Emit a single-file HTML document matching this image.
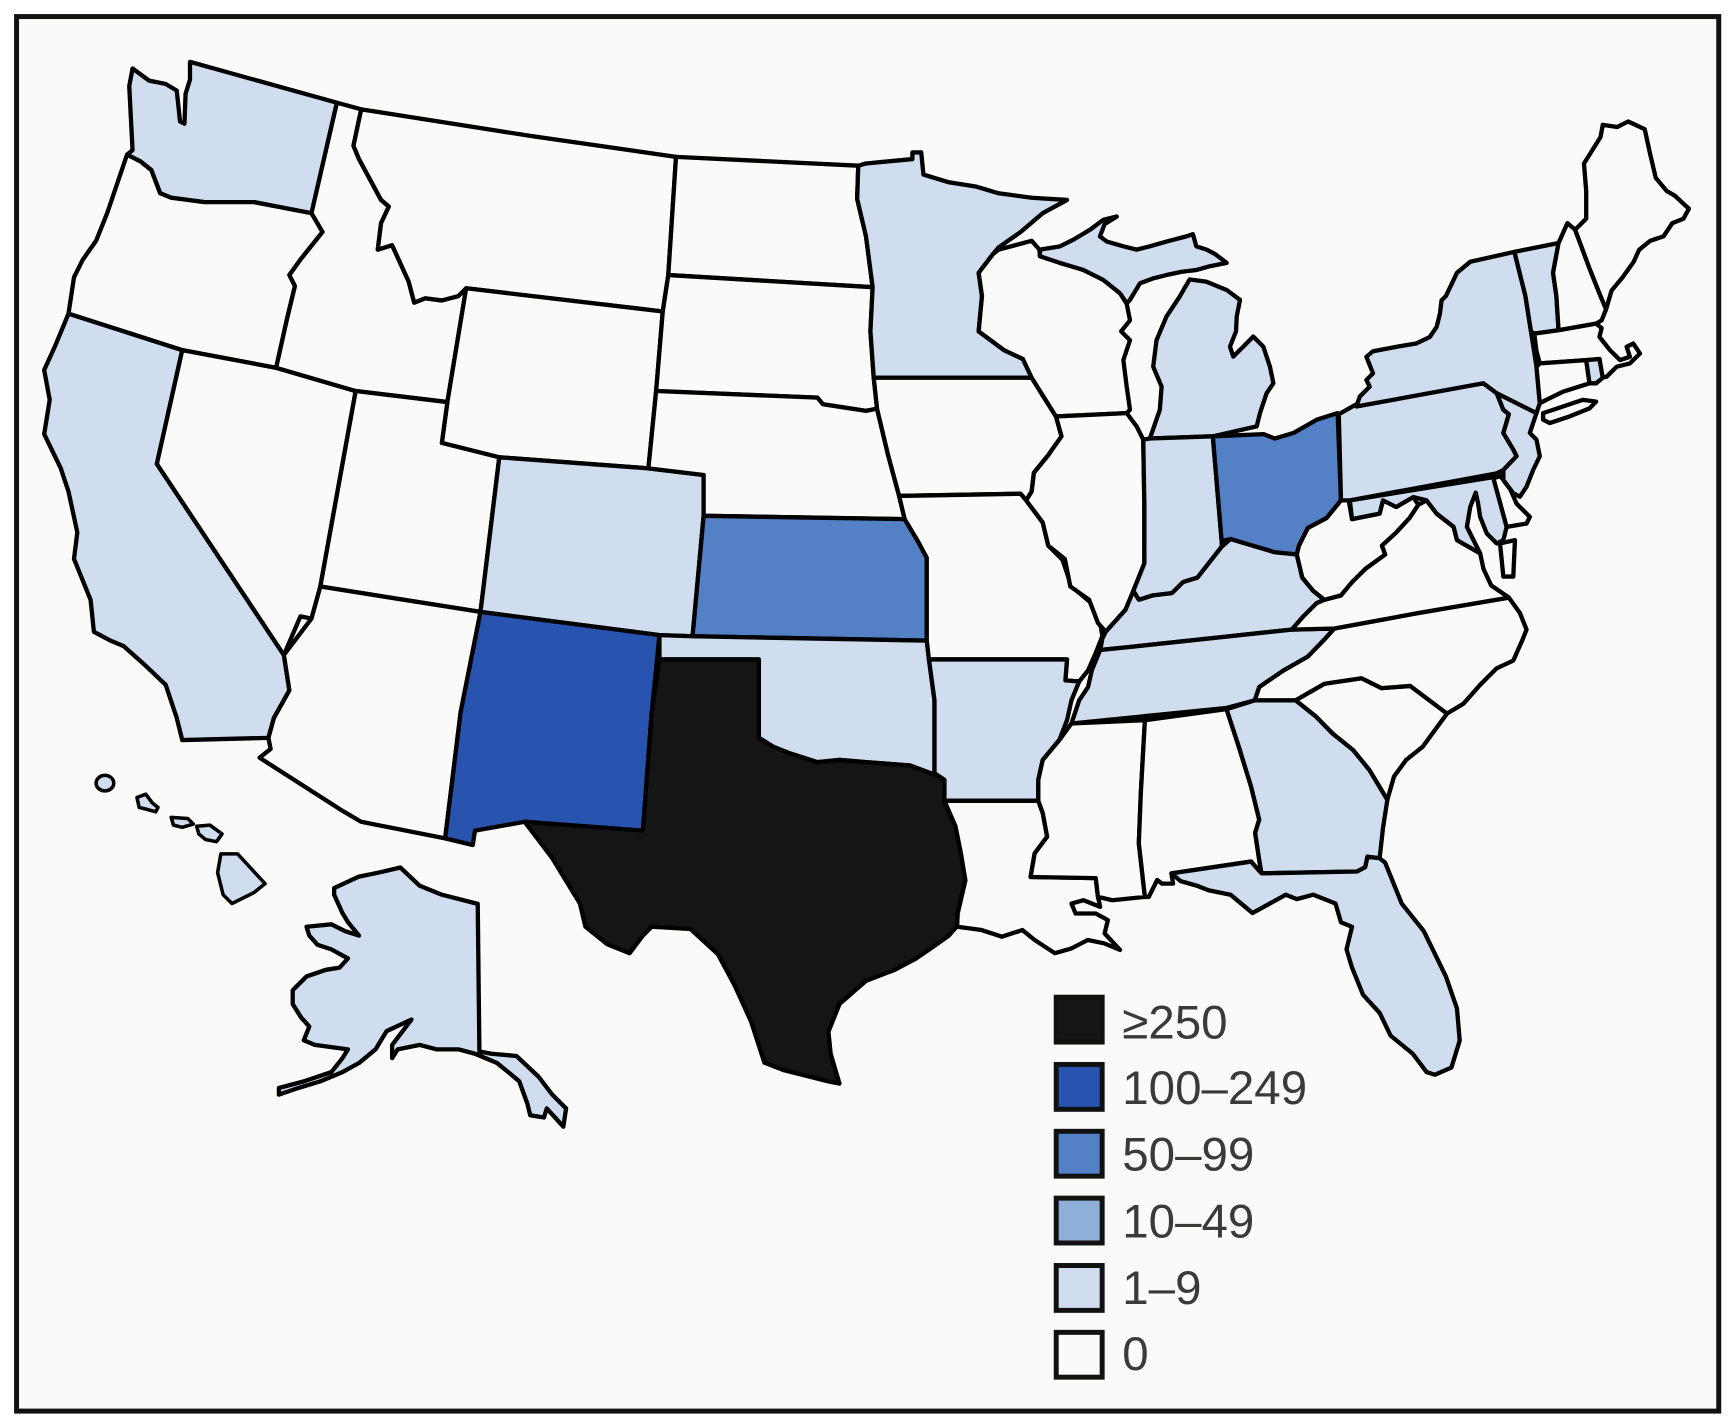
<!DOCTYPE html>
<html>
<head>
<meta charset="utf-8">
<style>
html,body{margin:0;padding:0;background:#ffffff;}
svg{display:block;}
</style>
</head>
<body>
<svg width="1732" height="1426" viewBox="0 0 1568 1291" preserveAspectRatio="none" xmlns="http://www.w3.org/2000/svg">
<rect x="0" y="0" width="1568" height="1291" fill="#ffffff"/>
<rect x="15" y="15" width="1541" height="1262.5" fill="#fafbf9" stroke="#111" stroke-width="4.5"/>
<g stroke="#000" stroke-width="3.9" stroke-linejoin="round" fill="#fafbf9">
<!-- West -->
<polygon fill="#cfddef" points="120,62 135,73 150,76 160,82 163,110 167,112 168,85 172,72 172,56 305,93 282,193 230,183 185,183 155,179 145,175 137,154 127,146 115,140 120,136 117,78"/>
<polygon points="115,140 127,146 137,154 145,175 155,179 185,183 230,183 282,193 292,210 272,235 262,249 267,259 260,288 250,333 165,317 62,284 67,251 75,235 87,218 97,193"/>
<polygon fill="#cfddef" points="62,284 165,317 142,420 257,593 262,625 248,650 243,668 165,670 160,650 150,620 130,601 112,585 100,580 85,572 82,543 67,506 70,482 62,445 55,424 40,393 45,362 40,335 50,313"/>
<polygon points="165,317 250,333 322,354 290,531 282,560 272,558 257,593 142,420"/>
<polygon points="305,93 327,99 320,132 325,144 345,181 352,187 345,202 342,226 355,222 370,255 375,274 385,270 400,272 415,268 422,261 405,364 322,354 250,333 260,288 267,259 262,249 272,235 292,210 282,193"/>
<polygon points="327,99 480,123 612,142 605,249 600,282 422,261 415,268 400,272 385,270 375,274 370,255 355,222 342,226 345,202 352,187 345,181 325,144 320,132"/>
<polygon points="422,261 600,282 594,354 587,424 452,414 400,401 405,364"/>
<polygon points="322,354 405,364 400,401 452,414 435,554 290,531"/>
<polygon fill="#cfddef" points="452,414 587,424 637,430 637,467 627,576 597,575 435,554"/>
<polygon points="290,531 435,554 417,645 403,759 327,744 310,734 235,686 245,678 243,668 248,650 262,625 257,593 282,560"/>
<polygon fill="#2854b0" points="435,554 597,575 590,645 582,752 475,744 430,752 428,765 403,759 417,645"/>
<!-- Plains -->
<polygon points="612,142 777,150 776,180 784,214 790,260 605,249"/>
<polygon points="605,249 790,260 788,300 791,342 794,370 784,372 745,366 740,360 594,354 600,282"/>
<polygon points="594,354 740,360 745,366 784,372 794,370 804,412 814,449 819,470 637,467 637,430 587,424"/>
<polygon fill="#5480c5" points="637,467 819,470 831,490 839,505 839,580 627,576"/>
<polygon fill="#cfddef" points="597,575 627,576 839,580 841,597 846,634 846,700 856,705 824,693 784,690 760,688 740,690 715,682 700,676 687,668 687,597 597,597"/>
<polygon fill="#151515" points="597,597 687,597 687,668 700,676 715,682 740,690 760,688 784,690 824,693 856,705 855,727 865,748 870,773 874,797 867,827 866,839 859,847 845,857 829,868 810,878 784,888 760,909 750,934 752,954 760,981 750,979 710,969 692,962 680,925 665,892 650,864 625,841 590,839 582,847 570,863 550,855 530,839 525,818 500,777 475,744 582,752 590,645"/>
<!-- Midwest -->
<polygon fill="#cfddef" points="784,148 826,144 826,138 834,138 836,158 859,165 884,169 904,175 934,179 966,181 944,193 924,210 904,224 899,230 886,247 889,268 886,300 909,317 926,325 934,342 791,342 788,300 790,260 784,214 776,180 777,150"/>
<polygon points="791,342 934,342 944,358 956,377 961,395 949,412 936,428 934,445 929,453 924,447 814,449 804,412 794,370"/>
<polygon points="899,230 904,226 934,218 941,226 941.5,232 959.6,238 980.7,244 998.8,253 1014,265.5 1020,275 1023,290 1015,300 1023,308 1017,326 1020,350 1023,371 1020,374 956,377 944,358 934,342 926,325 909,317 886,300 889,268 886,247"/>
<polygon fill="#cfddef" points="941.5,226 959.6,223 971.7,217 986.8,208 998.8,199 1011,196 1000,203 995.8,214 1002,218.7 1017,223 1029,226 1041,223 1056,218.7 1074,214 1080,212 1083,223 1092.4,226 1100,230 1110.5,238 1095.4,241 1083.3,244.4 1070,246 1056,249 1044,252 1032,256.5 1023,271.5 1020,274.6 1014,265.5 998.8,253.4 980.7,244.4 959.6,238 941.5,232"/>
<polygon fill="#cfddef" points="1077,253 1092,255 1110.5,262.5 1122.6,271.5 1119.6,286.6 1119,300 1113.5,313.8 1116.5,322.8 1125.6,313.8 1134.6,304.7 1143.7,313.8 1149.7,332 1152.8,347 1146.7,356 1140.7,374 1137.7,386 1098,395 1041,397 1050,371 1051.6,350 1044,332 1047,308 1056,286.6 1068,268.5"/>
<polygon points="814,449 924,447 929,453 944,473 949,494 962,507 966,519 970,531 988,546 996,564 998,576 992,591 985,607 977,617 964.5,616 966,597 841,597 839,580 839,505 831,490 819,470"/>
<polygon points="1020,374 1029,386 1035,398 1036,457 1036,510 1026,535 1019,552 1001,572 994,564 986,543 969,531 964,506 949,494 944,473 929,453 934,445 936,428 949,412 961,395 956,377"/>
<polygon fill="#cfddef" points="1035,398 1041,397 1098,395 1106,490 1106,495 1084,523 1071,527 1061,537 1044,539 1031,543 1026,535 1036,510 1036,457"/>
<polygon fill="#5480c5" points="1098,395 1144,393 1154,397 1171,392 1192,380 1211,374 1214,453 1201,469 1184,478 1176,494 1174,502 1154,500 1134,494 1114,488 1106,490"/>
<polygon fill="#cfddef" points="1001,572 1019,552 1026,535 1031,543 1044,539 1061,537 1071,527 1084,523 1106,495 1114,488 1134,494 1154,500 1174,502 1179,523 1189,535 1199,543 1192,546 1180,558 1169.5,570 1025,585.5 996,588.5 998,578"/>
<!-- South -->
<polygon fill="#cfddef" points="996,588.5 1025,585.5 1169.5,570 1208,569 1199,579 1184,594.5 1162,607 1140,622 1136,634 1110,641 970,655 977,634 985,622 988.5,606.6"/>
<polygon fill="#cfddef" points="841,597 966,597 964.5,616 977,617 970,634 966,652 959,670 944,688 940,706 940,725 855,725 855,706 846,700 846,634"/>
<polygon points="855,725 940,725 944,736 948,757.5 936.7,772.6 933,794 992,795 994,812 996,821 981,815 970,818 973.7,827 992,827 1003,833 1000,845 1014,860 999.5,854 984.8,851 970,858.6 955,863 936.7,851 925.6,842 907,848 888.7,842 866.5,839 867,827 874,797 870,773 865,748"/>
<polygon points="970,655 1036.5,652 1032.8,718 1031,763.5 1036.5,812 1007,815 994,812 992,795 933,794 936.7,772.6 948,757.5 944,736 940,725 940,706 944,688 959,670"/>
<polygon points="1036.5,652 1110.4,642 1121.5,676 1132.6,712 1140,742 1136.3,754 1140,778.6 1142,790.7 1132.6,780 1060.5,790.7 1062,800 1052,800 1047.6,796.7 1040,812 1036.5,812 1031,763.5 1032.8,718"/>
<polygon fill="#cfddef" points="1110.4,642 1136,634 1173,634 1191.7,649 1206.4,664 1225,679 1239.7,697 1256,724 1252,750 1249,777 1238,775.6 1236,785 1228.6,789 1142,790.7 1140,778.6 1136.3,754 1140,742 1132.6,712 1121.5,676"/>
<polygon fill="#cfddef" points="1060.5,790.7 1132.6,780 1142,790.7 1228.6,789 1236,785 1238,775.6 1249,777 1254,781 1269,818 1289,843 1309,884 1319,913 1321.5,942 1314,966.5 1299,973 1291.5,970.6 1279,954 1259,937.7 1249,917 1234,900.6 1224,876 1219,859.5 1224,839 1214,835 1209,818 1189,810 1174,814 1164,810 1134,826.6 1114,810 1094,806 1084,802 1069,797.8 1061.5,791.6"/>
<polygon points="1173,634 1199,619 1232.5,614 1250.8,623 1276.7,621 1310,646 1299,661 1288,676 1273,688 1262,703 1256,724 1239.7,697 1225,679 1206.4,664 1191.7,649"/>
<polygon points="1136,634 1140,622 1162,607 1184,594.5 1199,579 1208,569 1284,555 1366,541 1376,555 1382,570 1378,580 1370,598 1355,605 1340,620 1325,637 1310,646 1276.7,621 1250.8,623 1232.5,614 1199,619 1173,634"/>
<polygon points="1169.5,570 1180,558 1192,546 1199,543 1214,539 1224,527 1236,515 1254,502 1251,494 1264,482 1276,469 1284,457 1291.5,453 1300.6,465 1316,477 1319,489 1340,501 1343,515 1350,530 1366,541 1284,555 1208,569"/>
<polygon points="1214,453 1221,453 1224,470 1249,465 1252,453 1264,459 1279.5,450 1284,457 1276,469 1264,482 1251,494 1254,502 1236,515 1224,527 1214,539 1199,543 1189,535 1179,523 1174,502 1176,494 1184,478 1201,469"/>
<polygon fill="#cfddef" points="1222,453 1352,432 1364,477 1361,489 1355,492 1346,483 1340,468 1338,455 1336,446 1331,459 1328,477 1334,489 1340,501 1319,489 1316,477 1300.6,465 1291.5,453 1279.5,450 1264,459 1252,453 1249,465 1224,470"/>
<polygon points="1352,433 1358,431 1366,440 1373,456 1385,468 1382,474 1364,477"/>
<polygon points="1358,492 1371.5,489 1370,522 1361,522"/>
<!-- Northeast -->
<polygon fill="#cfddef" points="1212,375 1228,366 1343,347 1355,356 1361,371 1366,375 1361,392 1370,407 1373,413 1361,425.5 1355,428.5 1222,453 1214,453"/>
<polygon fill="#cfddef" points="1355,356 1391,374 1385,392 1391,398 1394,413 1388,425.5 1382,440.6 1376,449.7 1370,446.6 1361,434.6 1361,425.5 1373,413 1370,407 1361,392 1366,375 1361,371"/>
<polygon fill="#cfddef" points="1228,368 1231,359 1240,350 1237,344 1243,338 1237,323 1243,318 1264,314 1282,311 1294.5,305 1300.6,296 1303.6,284 1305,272 1309,268 1319,247 1331,237 1371,228 1381,268 1386,300 1391,332 1394,365 1391,374 1355,356 1343,347"/>
<polygon points="1397,374 1415,368 1433,362 1445,363.6 1439,369.7 1421,377 1403,383 1397,380"/>
<polygon fill="#cfddef" points="1371,228 1411,220 1406,247 1409,268 1411,299 1389,302 1386,300 1381,268"/>
<polygon points="1411,220 1419,202 1426,208 1439,243 1449,268 1454,280 1450,290 1445,293 1411,299 1409,268 1406,247"/>
<polygon points="1426,208 1436,198 1436,173 1434,148 1449,124 1451,113 1464,115 1474,110 1489,117 1494,140 1499,161 1509,173 1516,177 1529,189 1524,198 1514,202 1506,214 1494,218 1484,226 1479,237 1469,251 1459,263 1454,280 1449,268 1439,243"/>
<polygon points="1389,302 1411,299 1445,293 1450,297 1448,305 1457.5,317 1466.6,326 1475.6,323 1472.6,314 1478.6,311 1484.7,320 1475.6,329 1463.6,332 1454.5,341 1450,342 1448,325 1436,326 1394,329 1391,318"/>
<polygon points="1394,329 1436,326 1439,347 1415,354.6 1400,362 1394,365 1391,332"/>
<polygon fill="#cfddef" points="1436,326 1448,325 1451,342 1445,347 1439,347"/>
<!-- Alaska -->
<polygon fill="#cfddef" points="362.5,785.4 380,801.9 400,810 432.5,818.3 434,952 445,954 467.5,956 487.5,974.7 500,991 512.5,1003.5 510,1020 502.5,1011.7 495,1003.5 492.5,1011.7 480,1009.7 477.5,999.4 470,978.8 462.5,972.6 450,962.4 430,954 415,950 395,950 380,946 360,950 355,958 355,946 372.5,923 350,933.5 340,950 325,962.4 310,970.6 290,979 270,985 252.5,991 252.5,985 275,979 300,970.6 310,958 315,950 300,948 285,946 275,941.8 280,929.4 272.5,921 265,909 265,896.5 277.5,884 295,878 307.5,876 315,867.7 300,859.5 287.5,855.4 280,847 277.5,839 300,836.8 312.5,843 325,847 315,834.8 310,826.6 302.5,810 302.5,804 325,793.6 345,789.5"/>
<!-- Hawaii -->
<g stroke-width="3.2">
<ellipse fill="#cfddef" cx="95" cy="709" rx="8" ry="7"/>
<polygon fill="#cfddef" points="124,722 132,719 138,727 143,731 141,735 134,733 126,731"/>
<polygon fill="#cfddef" points="155,740 170,741 175,746 165,749 157,747"/>
<polygon fill="#cfddef" points="178,748 190,747 201,755 196,762 186,760 180,755"/>
<polygon fill="#cfddef" points="200,773 215,773 240,800 230,808 210,818 202,810 197,790"/>
</g>
</g>
<!-- Legend -->
<g stroke="#111" stroke-width="4.5">
<rect x="956.2" y="902.8" width="41.6" height="40.6" fill="#151515"/>
<rect x="956.2" y="963.7" width="41.6" height="40.6" fill="#2854b0"/>
<rect x="956.2" y="1024.2" width="41.6" height="40.6" fill="#5480c5"/>
<rect x="956.2" y="1084.7" width="41.6" height="40.6" fill="#8eafd8"/>
<rect x="956.2" y="1145.7" width="41.6" height="40.6" fill="#cfddef"/>
<rect x="956.2" y="1206.2" width="41.6" height="40.6" fill="#fafbf9"/>
</g>
<g font-family="'Liberation Sans', 'DejaVu Sans', sans-serif" font-size="43" fill="#3a3a3a">
<text x="1016" y="940">≥250</text>
<text x="1016" y="999.5">100–249</text>
<text x="1016" y="1059.5">50–99</text>
<text x="1016" y="1120.5">10–49</text>
<text x="1016" y="1180.5">1–9</text>
<text x="1016" y="1240.5">0</text>
</g>
</svg>
</body>
</html>
